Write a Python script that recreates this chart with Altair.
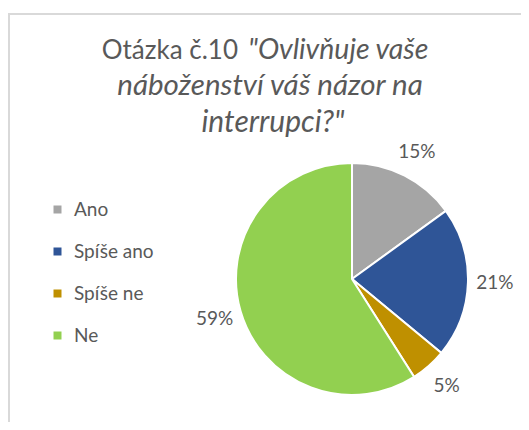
import altair as alt
import pandas as pd

categories = ["Ano", "Spíše ano", "Spíše ne", "Ne"]
values = [15, 21, 5, 59]
labels = ["15%", "21%", "5%", "59%"]
colors = ["#A5A5A5", "#2F5597", "#BF9000", "#92D050"]

title_line1_upright = "Otázka č.10"
title_line1_italic = "\"Ovlivňuje vaše"
title_line2 = "náboženství váš názor na"
title_line3 = "interrupci?\""

df = pd.DataFrame({"cat": categories, "val": values, "lab": labels,
                   "idx": list(range(len(categories)))})

FONT = "Lato"
TXT = "#595959"
CX, CY, R = 344, 271, 116

base = alt.Chart(df).encode(
    theta=alt.Theta("val:Q", stack=True),
    order=alt.Order("idx:Q"),
)

pie = base.mark_arc(radius=R, stroke="white", strokeWidth=2).encode(
    x=alt.value(CX), y=alt.value(CY),
    color=alt.Color("cat:N", scale=alt.Scale(domain=categories, range=colors),
                    legend=alt.Legend(title=None, orient="none", legendX=40, legendY=192,
                                      symbolType="square", symbolSize=64,
                                      symbolStrokeWidth=0,
                                      labelFont=FONT, labelFontSize=19, labelColor=TXT,
                                      labelOffset=7, rowPadding=22, padding=0)),
)

txt = base.mark_text(radius=143, font=FONT, fontSize=19, color=TXT).encode(
    x=alt.value(CX), y=alt.value(CY),
    text="lab:N",
)

one = alt.Chart(pd.DataFrame({"a": [0]}))
t1a = one.mark_text(font=FONT, fontSize=26, color=TXT, align="right", baseline="alphabetic").encode(
    x=alt.value(230), y=alt.value(51), text=alt.value(title_line1_upright))
t1b = one.mark_text(font=FONT, fontSize=28.5, color=TXT, align="left", baseline="alphabetic",
                    fontStyle="italic").encode(
    x=alt.value(240), y=alt.value(51), text=alt.value(title_line1_italic))
t2 = one.mark_text(font=FONT, fontSize=29.5, color=TXT, align="center", baseline="alphabetic",
                   fontStyle="italic").encode(
    x=alt.value(262), y=alt.value(87), text=alt.value(title_line2))
t3 = one.mark_text(font=FONT, fontSize=30, color=TXT, align="center", baseline="alphabetic",
                   fontStyle="italic").encode(
    x=alt.value(265), y=alt.value(124), text=alt.value(title_line3))

top_border = one.mark_rule(color="#D9D9D9", strokeWidth=2).encode(
    x=alt.value(0), x2=alt.value(513), y=alt.value(6))
left_border = one.mark_rule(color="#D9D9D9", strokeWidth=2).encode(
    x=alt.value(1), y=alt.value(6), y2=alt.value(414))

chart = alt.layer(top_border, left_border, pie, txt, t1a, t1b, t2, t3).properties(
    width=513, height=414, padding=0, autosize="none", background="white"
).configure_view(stroke=None)

chart.save("out.html", embed_options={"renderer": "svg", "actions": False})
